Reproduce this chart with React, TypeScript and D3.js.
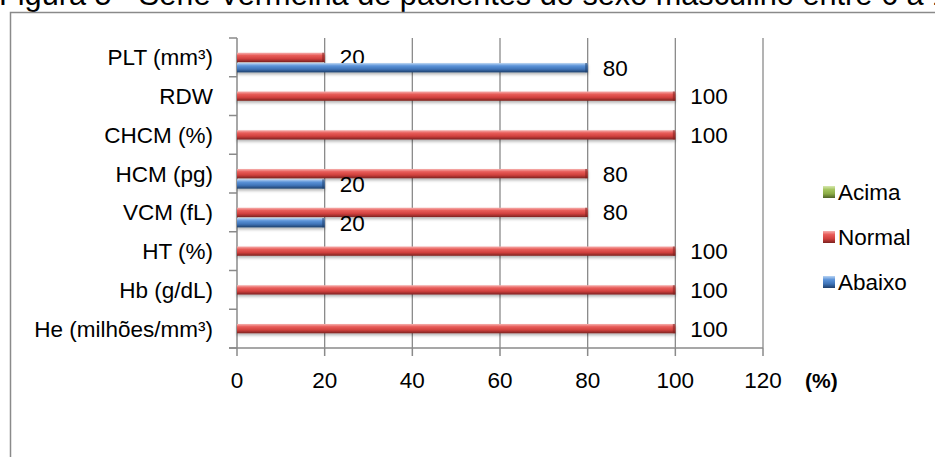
import React from "react";
import * as d3 from "d3";

// Hemograma (série vermelha) – percentual de pacientes por faixa
const categories = [
  "PLT (mm³)",
  "RDW",
  "CHCM (%)",
  "HCM (pg)",
  "VCM (fL)",
  "HT (%)",
  "Hb (g/dL)",
  "He (milhões/mm³)",
];
const acima = [0, 0, 0, 0, 0, 0, 0, 0];
const normal = [20, 100, 100, 80, 80, 100, 100, 100];
const abaixo = [80, 0, 0, 20, 20, 0, 0, 0];
const xTicks = [0, 20, 40, 60, 80, 100, 120];
const seriesNames = ["Acima", "Normal", "Abaixo"];

const W = 935;
const H = 457;
const FONT = "'Liberation Sans', Arial, sans-serif";
const GRID = "#8a8a8a";

export default function App() {
  const x = d3.scaleLinear().domain([0, 120]).range([237, 763]);
  const y = d3.scaleBand().domain(categories).range([38, 348]).paddingInner(0).paddingOuter(0);
  const bw = y.bandwidth();
  const sub = d3
    .scaleBand()
    .domain(seriesNames)
    .range([bw / 2 - 15, bw / 2 + 15])
    .paddingInner(0.1);

  const series = [
    { name: "Acima", values: acima, grad: "gGreen", cap: "#4f6228" },
    { name: "Normal", values: normal, grad: "gRed", cap: "#7a1f1d" },
    { name: "Abaixo", values: abaixo, grad: "gBlue", cap: "#1f3f6b" },
  ];

  const boundaries = d3.range(categories.length + 1).map((i) => 38 + i * bw);

  return (
    <svg
      width={W}
      height={H}
      style={{ position: "absolute", left: 0, top: 0, background: "#fff", display: "block" }}
      fontFamily={FONT}
    >
      <defs>
        <linearGradient id="gRed" x1="0" y1="0" x2="0" y2="1">
          <stop offset="0" stopColor="#f6b1af" />
          <stop offset="0.3" stopColor="#e85c59" />
          <stop offset="0.65" stopColor="#d0403d" />
          <stop offset="1" stopColor="#7c2220" />
        </linearGradient>
        <linearGradient id="gBlue" x1="0" y1="0" x2="0" y2="1">
          <stop offset="0" stopColor="#b9d4f3" />
          <stop offset="0.3" stopColor="#5c93d8" />
          <stop offset="0.65" stopColor="#3f74b8" />
          <stop offset="1" stopColor="#1f3f6b" />
        </linearGradient>
        <linearGradient id="gGreen" x1="0" y1="0" x2="0" y2="1">
          <stop offset="0" stopColor="#d7e8b0" />
          <stop offset="0.3" stopColor="#a4c45e" />
          <stop offset="0.65" stopColor="#8aab45" />
          <stop offset="1" stopColor="#4f6228" />
        </linearGradient>
        <filter id="shadow" x="-5%" y="-50%" width="110%" height="250%">
          <feDropShadow dx="0" dy="2" stdDeviation="1.5" floodColor="#000" floodOpacity="0.3" />
        </filter>
      </defs>

      {/* title line above the chart frame */}
      <text x={-1} y={5} fontSize={30.7} fill="#000">
        Figura 5 - Série Vermelha de pacientes do sexo masculino entre 6 a 12 anos
      </text>

      {/* chart frame */}
      <rect x={10.5} y={12.5} width={W + 20} height={H + 20} fill="none" stroke={GRID} strokeWidth={1.5} />

      {/* vertical gridlines */}
      {xTicks.slice(1).map((t) => (
        <line key={"g" + t} x1={x(t)} x2={x(t)} y1={38} y2={348} stroke={GRID} strokeWidth={1.3} />
      ))}

      {/* y axis */}
      <line x1={x(0)} x2={x(0)} y1={38} y2={348} stroke={GRID} strokeWidth={1.5} />
      {boundaries.map((b, i) => (
        <line key={"yt" + i} x1={229} x2={x(0)} y1={b} y2={b} stroke={GRID} strokeWidth={1.5} />
      ))}

      {/* x axis */}
      <line x1={229} x2={x(120)} y1={348} y2={348} stroke={GRID} strokeWidth={1.5} />
      {xTicks.map((t) => (
        <line key={"xt" + t} x1={x(t)} x2={x(t)} y1={348} y2={356} stroke={GRID} strokeWidth={1.5} />
      ))}
      {xTicks.map((t) => (
        <text key={"xl" + t} x={x(t)} y={388} fontSize={22.5} textAnchor="middle" fill="#000">
          {t}
        </text>
      ))}
      <text x={805} y={388} fontSize={21} fontWeight="bold" fill="#000">
        (%)
      </text>

      {/* category labels */}
      {categories.map((c) => (
        <text
          key={c}
          x={213}
          y={(y(c) as number) + bw / 2}
          dy="0.35em"
          fontSize={22.5}
          textAnchor="end"
          fill="#000"
        >
          {c}
        </text>
      ))}

      {/* bars */}
      {series.map((s) =>
        s.values.map((v, i) => {
          if (v <= 0) return null;
          const cy = (y(categories[i]) as number) + (sub(s.name) as number);
          const h = sub.bandwidth();
          const x0 = x(0);
          const x1 = x(v);
          return (
            <g key={s.name + i}>
              <rect
                x={x0}
                y={cy}
                width={x1 - x0}
                height={h}
                fill={`url(#${s.grad})`}
                filter="url(#shadow)"
              />
              <rect x={x1 - 2.5} y={cy} width={2.5} height={h} fill={s.cap} opacity={0.55} />
              <text x={x1 + 15} y={cy + h / 2} dy="0.36em" fontSize={22.5} fill="#000">
                {v}
              </text>
            </g>
          );
        })
      )}

      {/* legend */}
      {series.map((s, i) => {
        const ly = 192 + i * 45;
        return (
          <g key={"lg" + s.name}>
            <rect x={823} y={ly - 6} width={12} height={12} fill={`url(#${s.grad})`} />
            <text x={838} y={ly} dy="0.35em" fontSize={22.5} fill="#000">
              {s.name}
            </text>
          </g>
        );
      })}
    </svg>
  );
}
